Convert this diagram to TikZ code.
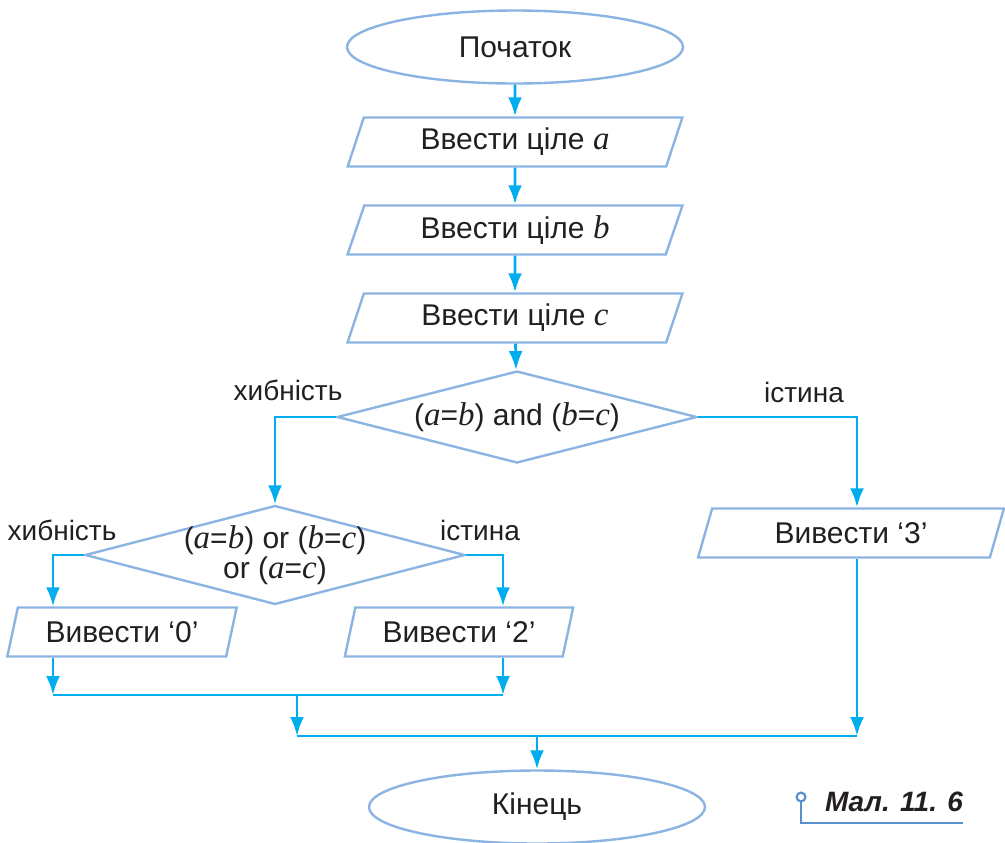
\documentclass[tikz,border=0pt]{standalone}
\usepackage{fontspec}
\setmainfont{Liberation Sans}
\newfontfamily\serifvar{Liberation Serif}
\usetikzlibrary{arrows.meta,shapes.geometric}
\definecolor{blueLine}{HTML}{8CB4E2}
\definecolor{blueArrow}{HTML}{00AEEF}
\definecolor{blueCaption}{HTML}{5A8FCF}
\definecolor{darkText}{HTML}{231F20}
\newcommand{\vr}[1]{{\serifvar\itshape\fontsize{16.5}{17}\selectfont #1}}

\tikzset{
  term/.style={ellipse, draw=blueLine, line width=1.2pt, minimum width=168pt,
    minimum height=36.5pt, inner sep=0pt},
  io/.style={trapezium, trapezium left angle=70, trapezium right angle=110,
    trapezium stretches=true, draw=blueLine, line width=1.2pt,
    minimum height=24.5pt, inner sep=0pt},
  test/.style={diamond, draw=blueLine, line width=1.2pt, inner sep=0pt,
    align=center, font=\fontsize{15}{15}\selectfont},
  flow/.style={draw=blueArrow, line width=1.4pt, ->},
  link/.style={draw=blueArrow, line width=1.4pt},
  lbl/.style={font=\fontsize{14}{16}\selectfont},
  capline/.style={draw=blueCaption, line width=1.1pt},
}

\begin{document}
\begin{tikzpicture}[x=0.5pt, y=-0.5pt, text=darkText,
    >={Latex[length=9.5pt,width=7pt]}, font=\fontsize{15}{17}\selectfont]

    \useasboundingbox (0,0) rectangle (1005,842);

    % main column
    \node[term] (start) at (515,47) {Початок};
    \node[io, minimum width=167.5pt] (ina) at (515,142) {Ввести ціле \vr{a}};
    \node[io, minimum width=167.5pt] (inb) at (515,230) {Ввести ціле \vr{b}};
    \node[io, minimum width=167.5pt] (inc) at (515,318) {Ввести ціле \vr{c}};
    \node[test, aspect=3.9, minimum width=180pt, minimum height=46pt] (cond1)
        at (517,417) {(\vr{a}=\vr{b}) and (\vr{b}=\vr{c})};

    % branches
    \node[test, aspect=3.84, inner ysep=-6pt, minimum width=190pt,
        minimum height=49.5pt] (cond2)
        at (275,555) {(\vr{a}=\vr{b}) or (\vr{b}=\vr{c})\\or (\vr{a}=\vr{c})};
    \node[io, minimum width=115.5pt] (out0) at (122,632) {Вивести ‘0’};
    \node[io, minimum width=115pt] (out2) at (459,632) {Вивести ‘2’};
    \node[io, minimum width=154pt] (out3) at (851,533) {Вивести ‘3’};
    \node[term] (finish) at (537,807) {Кінець};

    % branch labels
    \node[lbl] (no1) at (288,390) {хибність};
    \node[lbl] (yes1) at (804,392) {істина};
    \node[lbl] (no2) at (62,530) {хибність};
    \node[lbl] (yes2) at (480,530) {істина};

    % helper points for the lines
    \coordinate (p0) at (53,0);
    \coordinate (p2) at (503,0);
    \coordinate (p3) at (857,0);
    \coordinate (j1) at (297,695);
    \coordinate (j2) at (537,736);

    % arrows
    \draw[flow] (start) -- (ina);
    \draw[flow] (ina) -- (inb);
    \draw[flow] (inb) -- (inc);
    \draw[flow] (inc) -- (cond1);
    \draw[flow] (cond1.west) -| (cond2.north);
    \draw[flow] (cond1.east) -| (p3 |- out3.north);
    \draw[flow] (cond2.west) -| (p0 |- out0.north);
    \draw[flow] (cond2.east) -| (p2 |- out2.north);
    \draw[flow] (p0 |- out0.south) -- (p0 |- j1);
    \draw[flow] (p2 |- out2.south) -- (p2 |- j1);
    \draw[link] (p0 |- j1) -- (p2 |- j1);
    \draw[flow] (j1) -- (j1 |- j2);
    \draw[flow] (p3 |- out3.south) -- (p3 |- j2);
    \draw[link] (j1 |- j2) -- (p3 |- j2);
    \draw[flow] (j2) -- (finish);

    % caption
    \node[anchor=west, font=\bfseries\itshape\fontsize{14}{16}\selectfont]
        (cap) at (818,802) {Мал. 11. 6};
    \draw[capline] (801,797) circle (2.2pt);
    \draw[capline] (801,801.5) |- (963,823);

\end{tikzpicture}
\end{document}
